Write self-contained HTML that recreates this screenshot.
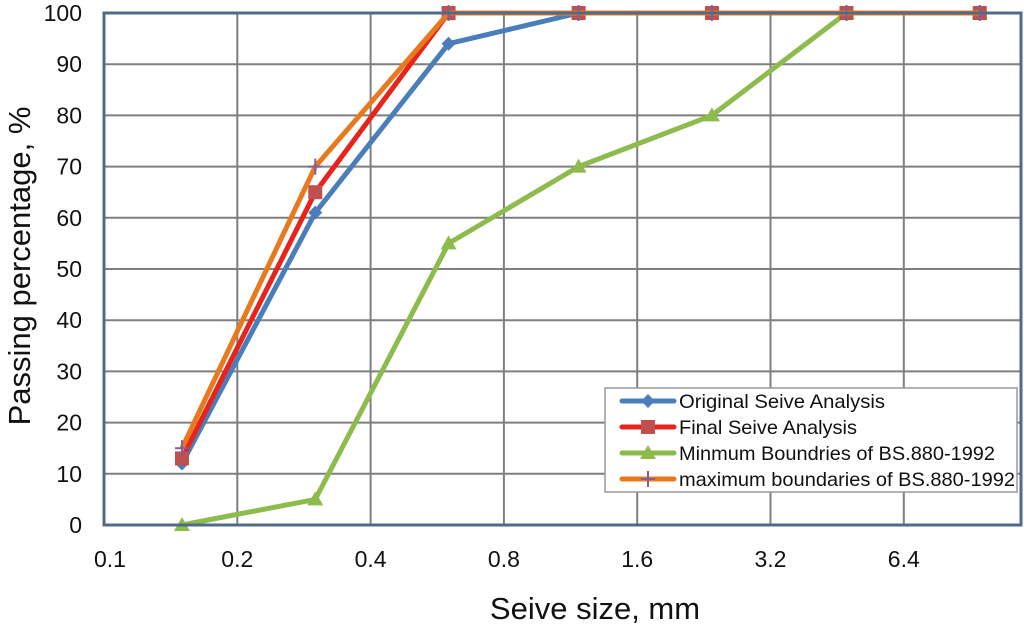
<!DOCTYPE html>
<html><head><meta charset="utf-8"><style>
body{margin:0;background:#fff;}
svg text{font-family:"Liberation Sans",Arial,sans-serif;fill:#111;}
</style></head><body>
<svg id="chart" width="1024" height="629" xmlns="http://www.w3.org/2000/svg">
<g id="grid"></g>
<g id="series"></g>
<g id="axes"></g>
<text transform="translate(30,266) rotate(-90)" text-anchor="middle" font-size="31">Passing percentage, %</text>
<text x="595" y="619" text-anchor="middle" font-size="31">Seive size, mm</text>
<g id="legend"></g>
</svg>
<script>
const sizes=[0.15,0.3,0.6,1.18,2.36,4.75,9.5];
const original=[12,61,94,100,100,100,100];
const finalS=[13,65,100,100,100,100,100];
const minB=[0,5,55,70,80,100,100];
const maxB=[15,70,100,100,100,100,100];
const xTicks=[0.1,0.2,0.4,0.8,1.6,3.2,6.4];
const xTickLabels=["0.1","0.2","0.4","0.8","1.6","3.2","6.4"];
const yTicks=[0,10,20,30,40,50,60,70,80,90,100];
const seriesNames=["Original Seive Analysis","Final Seive Analysis","Minmum Boundries of BS.880-1992","maximum boundaries of BS.880-1992"];

const L=104,R=1021,T=13,B=525,OCT=133.3;
const NS="http://www.w3.org/2000/svg";
const xs=v=>L+Math.log2(v/0.1)*OCT;
const ys=v=>B-(v/100)*(B-T);
function mk(tag,attrs,parent){const e=document.createElementNS(NS,tag);for(const k in attrs)e.setAttribute(k,attrs[k]);parent.appendChild(e);return e;}
const grid=document.getElementById('grid'),axes=document.getElementById('axes'),ser=document.getElementById('series'),leg=document.getElementById('legend');
yTicks.forEach(t=>{
  const l=mk('line',{x1:L,x2:R,y1:ys(t),y2:ys(t),stroke:'#7f7f7f','stroke-width':2},grid);
  
  
  const tx=mk('text',{x:82,y:ys(t)+8,'text-anchor':'end','font-size':23},axes);
  tx.textContent=t;
  
  
});
xTicks.forEach((t,i)=>{
  if(i>0){const l=mk('line',{x1:xs(t),x2:xs(t),y1:T,y2:B,stroke:'#7f7f7f','stroke-width':2},grid);
  
  }
  const tx=mk('text',{x:xs(t)+(i==0?6:0),y:567,'text-anchor':'middle','font-size':23},axes);
  tx.textContent=xTickLabels[i];
  
  
});
const frame=mk('rect',{x:L,y:T,width:R-L,height:B-T,fill:'none',stroke:'#4f6b8a','stroke-width':3},axes);



function marker(type,x,y,color,g){
  if(type=='diamond')mk('polygon',{points:`${x},${y-7} ${x+7},${y} ${x},${y+7} ${x-7},${y}`,fill:color},g);
  else if(type=='square')mk('rect',{x:x-7,y:y-7,width:14,height:14,fill:color},g);
  else if(type=='triangle')mk('polygon',{points:`${x},${y-8} ${x+8},${y+6} ${x-8},${y+6}`,fill:color},g);
  else {mk('line',{x1:x-7,x2:x+7,y1:y,y2:y,stroke:color,'stroke-width':2},g);mk('line',{x1:x,x2:x,y1:y-8,y2:y+8,stroke:color,'stroke-width':2},g);}
}
const defs=[
 {vals:minB,color:'#8dbb4c',mk:'triangle',mc:'#8dbb4c'},
 {vals:original,color:'#4a7ebb',mk:'diamond',mc:'#4a7ebb'},
 {vals:finalS,color:'#e8231c',mk:'square',mc:'#c0504d'},
 {vals:maxB,color:'#e8791c',mk:'plus',mc:'#7f5f9f'}
];
const order=[1,2,0,3];
defs.forEach((d,k)=>{
  const g=mk('g',{},ser);
  
  
  const pts=sizes.map((s,i)=>xs(s)+','+ys(d.vals[i])).join(' ');
  mk('polyline',{points:pts,fill:'none',stroke:d.color,'stroke-width':5,'stroke-linejoin':'round'},g);
  sizes.forEach((s,i)=>marker(d.mk,xs(s),ys(d.vals[i]),d.mc,g));
});
const lb=mk('rect',{x:605,y:388,width:412,height:104,fill:'#fff',stroke:'#999','stroke-width':1.5},leg);


order.forEach((k,i)=>{
  const d=defs[k],y=401+i*26;
  const g=mk('g',{},leg);
  
  
  mk('line',{x1:622,x2:674,y1:y,y2:y,stroke:d.color,'stroke-width':5,'stroke-linecap':'round'},g);
  marker(d.mk,648,y,d.mc,g);
  const t=mk('text',{x:679,y:y+7,'font-size':19.5,textLength:i==0?206:(i==1?178:(i==2?316:336)),lengthAdjust:'spacingAndGlyphs'},g);
  t.textContent=seriesNames[i];
});
</script>
</body></html>
